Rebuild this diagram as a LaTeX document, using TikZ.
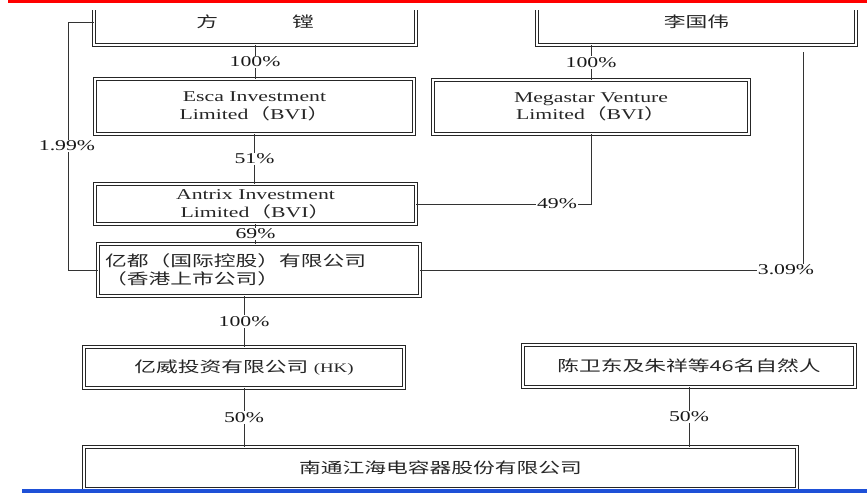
\documentclass[tikz,border=0pt]{standalone}
\usepackage{fontspec}
\setmainfont[FakeStretch=1.45]{Liberation Serif}
\newfontfamily\cjk[FakeStretch=1.45]{Noto Sans CJK SC}
\definecolor{barblue}{RGB}{30,80,215}
\newcommand{\fwl}{{\cjk （}}
\newcommand{\fwr}{{\cjk ）}}

\begin{document}
\begin{tikzpicture}[x=1pt, y=-1pt,
    box/.style={draw=black!85, double=white, double distance=2.6pt, line width=0.8pt,
        inner sep=0pt, align=center, text=black!85,
        font=\fontsize{15pt}{17.5pt}\selectfont},
    link/.style={draw=black!80, line width=0.8pt},
    pct/.style={fill=white, inner sep=1pt, text=black!90,
        font=\fontsize{15pt}{17pt}\selectfont}]

    \useasboundingbox (0,0) rectangle (867,493);

    % --- PERSONE IN ALTO (tagliate dal bordo) ---
    \begin{scope}
        \clip (0,10) rectangle (867,493);
        \node[box, minimum width=322pt, minimum height=46pt] (fang) at (255,22) {\cjk 方\hspace{74pt}镗};
        \node[box, minimum width=319pt, minimum height=46pt] (li) at (696.5,22) {\cjk 李国伟};
    \end{scope}

    % --- SOCIETA' BVI ---
    \node[box, minimum width=319pt, minimum height=55pt] (esca) at (254.5,106.5)
        {Esca Investment\\Limited\fwl BVI\fwr};
    \node[box, minimum width=316pt, minimum height=54pt] (megastar) at (591,107)
        {Megastar Venture\\Limited\fwl BVI\fwr};
    \node[box, minimum width=321pt, minimum height=40pt] (antrix) at (255.5,204)
        {Antrix Investment\\Limited\fwl BVI\fwr};

    % --- SOCIETA' QUOTATA E CONTROLLATE ---
    \node[box, minimum width=322pt, minimum height=52pt, text width=308pt, align=left] (yidu) at (259,270)
        {\cjk 亿都（国际控股）有限公司\\ \cjk （香港上市公司）};
    \node[box, minimum width=320pt, minimum height=41pt] (yiwei) at (244,367.5)
        {{\cjk 亿威投资有限公司} {\fontsize{13pt}{15pt}\selectfont (HK)}};
    \node[box, minimum width=332pt, minimum height=42pt] (chen) at (689,366)
        {\cjk 陈卫东及朱祥等46名自然人};
    \node[box, minimum width=713pt, minimum height=42pt] (jianghai) at (440.5,468)
        {\cjk 南通江海电容器股份有限公司};

    % --- COLLEGAMENTI VERTICALI ---
    \draw[link] (fang.south) -- node[pct] {100\%} (fang.south |- esca.north);
    \draw[link] (megastar.north |- li.south) -- node[pct] {100\%} (megastar.north);
    \draw[link] (esca.south) -- node[pct] {51\%} (esca.south |- antrix.north);
    \draw[link] (antrix.south) -- node[pct] {69\%} (antrix.south |- yidu.north);
    \draw[link] (yiwei.north |- yidu.south) -- node[pct] {100\%} (yiwei.north);
    \draw[link] (yiwei.south) -- node[pct] {50\%} (yiwei.south |- jianghai.north);
    \draw[link] (chen.south) -- node[pct] {50\%} (chen.south |- jianghai.north);

    % --- QUOTE LATERALI ---
    \node[pct] (p49) at (557,204) {49\%};
    \draw[link] (megastar.south) |- (p49.east);
    \draw[link] (p49.west) -- (antrix.east);

    \coordinate (lidrop) at (803,52);
    \node[pct] (p309) at (786,270) {3.09\%};
    \draw[link] (lidrop) -- (lidrop |- p309.north);
    \draw[link] (yidu.east) -- (p309.west);

    \coordinate (fangleft) at (68,22);
    \draw[link] (fang.west) -- (fangleft) -- (fangleft |- yidu.west) -- (yidu.west);
    \node[pct] (p199) at (67,146) {1.99\%};

    % --- BARRE COLORATE ---
    \fill[red] (8,0) rectangle (867,2.5);
    \fill[barblue] (22,488.5) rectangle (867,493);

\end{tikzpicture}
\end{document}
